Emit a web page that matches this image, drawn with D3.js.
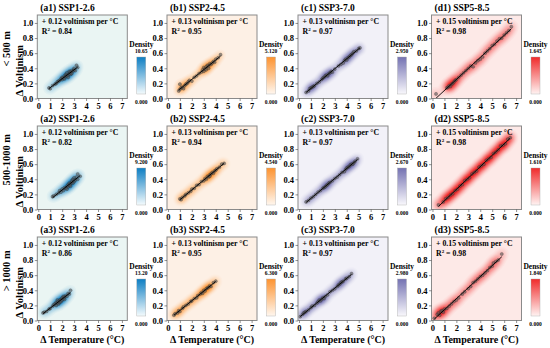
<!DOCTYPE html>
<html><head><meta charset="utf-8">
<script src="https://cdn.jsdelivr.net/npm/d3@7"></script>
<style>
body{margin:0;background:#fff;}
text{font-family:"Liberation Serif","Times New Roman",serif;font-weight:bold;fill:#000;}
</style></head>
<body><svg id="c" width="550" height="348"></svg>
<script>
const rowLabels = ["< 500 m", "500-1000 m", "> 1000 m"];
const scenarios = ["SSP1-2.6", "SSP2-4.5", "SSP3-7.0", "SSP5-8.5"];
const colLetters = ["a", "b", "c", "d"];
const slopes = ["0.12", "0.13", "0.13", "0.15"];
const r2Row1 = ["0.84", "0.95", "0.97", "0.98"];
const r2Row2 = ["0.82", "0.94", "0.97", "0.98"];
const r2Row3 = ["0.86", "0.95", "0.97", "0.98"];
const densMaxRow1 = ["10.65", "5.120", "2.950", "1.645"];
const densMaxRow2 = ["9.200", "4.540", "2.670", "1.610"];
const densMaxRow3 = ["13.20", "6.300", "2.980", "1.840"];
const xTicks = [0, 1, 2, 3, 4, 5, 6, 7];
const yTicks = [0, 0.2, 0.4, 0.6, 0.8, 1.0];

// points: [ΔT, ΔVoltinism]
const ptsA1 = [[0.9,0.14],[1.0,0.13],[1.2,0.17],[1.4,0.19],[1.5,0.2],[1.6,0.22],[1.7,0.23],[1.8,0.24],[1.9,0.26],[2.0,0.25],[2.0,0.28],[2.1,0.27],[2.2,0.3],[2.2,0.26],[2.3,0.29],[2.3,0.32],[2.4,0.3],[2.4,0.34],[2.5,0.31],[2.5,0.28],[2.6,0.33],[2.6,0.36],[2.7,0.32],[2.7,0.35],[2.8,0.37],[2.8,0.33],[2.9,0.36],[3.0,0.38],[3.0,0.4],[3.1,0.37],[3.2,0.44],[3.3,0.41]];
const ptsB1 = [[0.9,0.1],[1.0,0.19],[1.0,0.12],[1.1,0.14],[1.2,0.15],[1.3,0.13],[1.4,0.17],[1.5,0.19],[1.6,0.2],[1.7,0.22],[1.8,0.24],[2.0,0.23],[2.2,0.28],[2.4,0.3],[2.6,0.33],[2.8,0.35],[2.9,0.38],[3.0,0.36],[3.0,0.41],[3.1,0.39],[3.2,0.42],[3.2,0.38],[3.3,0.44],[3.4,0.43],[3.4,0.4],[3.5,0.46],[3.6,0.45],[3.7,0.47],[3.8,0.49],[3.9,0.48],[4.0,0.52],[4.2,0.54],[4.4,0.58]];
const ptsC1 = [[0.6,0.08],[0.8,0.1],[0.9,0.13],[1.0,0.14],[1.1,0.15],[1.2,0.16],[1.3,0.17],[1.5,0.2],[1.7,0.22],[1.9,0.25],[2.0,0.27],[2.1,0.28],[2.2,0.3],[2.3,0.31],[2.4,0.3],[2.5,0.33],[2.6,0.34],[2.7,0.36],[2.8,0.35],[3.0,0.39],[3.3,0.43],[3.5,0.45],[3.7,0.47],[3.8,0.5],[3.9,0.52],[4.0,0.51],[4.1,0.54],[4.2,0.55],[4.3,0.57],[4.4,0.58],[4.5,0.6],[4.6,0.62],[4.8,0.63],[5.0,0.66],[5.1,0.67]];
const ptsD1 = [[0.3,0.06],[1.2,0.14],[1.3,0.15],[1.4,0.17],[1.5,0.16],[1.6,0.19],[1.7,0.2],[1.8,0.22],[1.9,0.24],[2.0,0.25],[2.2,0.28],[2.4,0.31],[2.6,0.34],[2.8,0.37],[3.0,0.4],[3.2,0.43],[3.4,0.42],[3.6,0.47],[3.8,0.5],[4.0,0.52],[4.2,0.55],[4.4,0.6],[4.6,0.63],[4.8,0.66],[5.0,0.7],[5.2,0.72],[5.4,0.76],[5.6,0.79],[5.8,0.8],[6.0,0.84],[6.2,0.87],[6.4,0.9],[6.6,0.95]];
const ptsA2 = [[1.2,0.17],[1.3,0.18],[1.5,0.2],[1.7,0.22],[1.8,0.25],[1.9,0.23],[2.0,0.27],[2.1,0.25],[2.2,0.29],[2.3,0.28],[2.4,0.31],[2.4,0.27],[2.5,0.33],[2.5,0.3],[2.6,0.32],[2.6,0.35],[2.7,0.34],[2.7,0.31],[2.8,0.36],[2.8,0.38],[2.9,0.35],[2.9,0.4],[3.0,0.37],[3.0,0.42],[3.1,0.39],[3.2,0.43],[3.3,0.4],[3.3,0.47],[3.5,0.44]];
const ptsB2 = [[1.0,0.14],[1.1,0.13],[1.2,0.16],[1.4,0.18],[1.5,0.2],[1.7,0.22],[1.9,0.24],[2.0,0.27],[2.2,0.28],[2.4,0.32],[2.6,0.33],[2.8,0.37],[3.0,0.38],[3.1,0.41],[3.2,0.4],[3.3,0.44],[3.4,0.43],[3.5,0.46],[3.5,0.44],[3.6,0.47],[3.7,0.49],[3.8,0.48],[3.9,0.51],[4.0,0.52],[4.1,0.54],[4.3,0.56],[4.5,0.6],[4.7,0.61]];
const ptsC2 = [[0.6,0.1],[0.8,0.12],[1.0,0.15],[1.2,0.17],[1.4,0.2],[1.6,0.23],[1.8,0.25],[2.0,0.28],[2.1,0.29],[2.2,0.3],[2.3,0.32],[2.4,0.33],[2.5,0.35],[2.6,0.36],[2.8,0.38],[3.0,0.41],[3.2,0.43],[3.4,0.46],[3.6,0.49],[3.8,0.5],[3.9,0.53],[4.0,0.55],[4.1,0.56],[4.2,0.57],[4.3,0.59],[4.4,0.6],[4.5,0.6],[4.6,0.62],[4.7,0.64],[4.9,0.67]];
const ptsD2 = [[0.5,0.06],[0.9,0.1],[1.1,0.14],[1.3,0.16],[1.5,0.19],[1.7,0.21],[1.9,0.25],[2.1,0.27],[2.3,0.31],[2.5,0.33],[2.7,0.38],[2.9,0.4],[3.1,0.42],[3.3,0.47],[3.5,0.49],[3.7,0.51],[3.9,0.56],[4.1,0.58],[4.3,0.6],[4.5,0.65],[4.7,0.67],[4.9,0.69],[5.1,0.74],[5.3,0.76],[5.5,0.79],[5.7,0.84],[5.9,0.85],[6.1,0.87],[6.3,0.93],[6.5,0.95]];
const ptsA3 = [[0.4,0.1],[0.5,0.11],[0.7,0.12],[0.9,0.15],[1.0,0.16],[1.2,0.19],[1.3,0.21],[1.4,0.22],[1.5,0.24],[1.5,0.2],[1.6,0.23],[1.6,0.27],[1.7,0.25],[1.7,0.22],[1.8,0.27],[1.8,0.24],[1.9,0.28],[1.9,0.25],[2.0,0.3],[2.0,0.27],[2.1,0.29],[2.1,0.32],[2.2,0.31],[2.2,0.28],[2.3,0.33],[2.4,0.32],[2.5,0.36],[2.6,0.35],[2.7,0.4]];
const ptsB3 = [[0.5,0.07],[0.6,0.09],[0.8,0.1],[0.9,0.13],[1.0,0.12],[1.2,0.16],[1.3,0.18],[1.5,0.2],[1.7,0.22],[1.9,0.25],[2.0,0.26],[2.2,0.29],[2.4,0.3],[2.5,0.33],[2.7,0.35],[2.8,0.37],[2.9,0.36],[3.0,0.4],[3.1,0.39],[3.2,0.42],[3.3,0.43],[3.4,0.44],[3.5,0.46],[3.6,0.45],[3.8,0.5],[4.0,0.52]];
const ptsC3 = [[0.1,0.05],[0.3,0.08],[0.4,0.1],[0.5,0.11],[0.6,0.12],[0.8,0.14],[1.0,0.17],[1.1,0.19],[1.3,0.2],[1.5,0.23],[1.6,0.25],[1.7,0.27],[1.8,0.26],[1.9,0.28],[2.0,0.3],[2.1,0.29],[2.2,0.32],[2.4,0.34],[2.6,0.38],[2.8,0.4],[3.0,0.42],[3.2,0.45],[3.3,0.47],[3.4,0.48],[3.5,0.5],[3.6,0.51],[3.7,0.52],[3.9,0.55],[4.0,0.56],[4.2,0.58],[4.4,0.62]];
const ptsD3 = [[0.15,0.03],[0.4,0.08],[0.5,0.1],[0.6,0.07],[0.7,0.12],[0.8,0.13],[0.9,0.11],[1.0,0.15],[1.2,0.16],[1.4,0.19],[1.6,0.22],[1.8,0.25],[2.0,0.27],[2.2,0.3],[2.5,0.35],[2.7,0.38],[3.0,0.42],[3.2,0.45],[3.4,0.5],[3.6,0.52],[3.8,0.55],[4.0,0.58],[4.2,0.6],[4.4,0.63],[4.6,0.66],[4.8,0.7],[5.0,0.72],[5.1,0.76],[5.3,0.78],[5.5,0.8],[5.8,0.88]];

const bgColors = ["#eaf5f3", "#fdf0e5", "#f2f1f8", "#fde9e7"];
const topColors = ["#0d7ec3", "#fd9330", "#7472b2", "#f02a2a"];
const barBottom = ["#f4fbfd", "#fff7ef", "#f9f8fc", "#fff3f2"];

const pts = [[ptsA1, ptsB1, ptsC1, ptsD1],[ptsA2, ptsB2, ptsC2, ptsD2],[ptsA3, ptsB3, ptsC3, ptsD3]];
const r2 = [r2Row1, r2Row2, r2Row3];
const densMax = [densMaxRow1, densMaxRow2, densMaxRow3];

const colLeft = [37.3, 167, 298, 431.5];
const rowTop = [15, 126, 237];
const W = 90, H = 83.5;
const bandwidths = [3.2, 3.0, 3.0, 3.6];

const svg = d3.select("#c");
const defs = svg.append("defs");
const x = d3.scaleLinear().domain([-0.08, 7.45]).range([0, W]);
const y = d3.scaleLinear().domain([0, 1.105]).range([H, 0]);

topColors.forEach((c, j) => {
  const g = defs.append("linearGradient").attr("id", "grad" + j).attr("x1", 0).attr("x2", 0).attr("y1", 1).attr("y2", 0);
  g.append("stop").attr("offset", "0%").attr("stop-color", barBottom[j]);
  g.append("stop").attr("offset", "100%").attr("stop-color", c);
});
defs.append("clipPath").attr("id", "clipP").append("rect").attr("width", W).attr("height", H);

function linreg(p) {
  const mx = d3.mean(p, d => d[0]), my = d3.mean(p, d => d[1]);
  let sxy = 0, sxx = 0;
  p.forEach(d => { sxy += (d[0]-mx)*(d[1]-my); sxx += (d[0]-mx)**2; });
  const b = sxy / sxx; return [b, my - b*mx];
}

for (let i = 0; i < 3; i++) {
  for (let j = 0; j < 4; j++) {
    const P = pts[i][j];
    const g = svg.append("g").attr("transform", `translate(${colLeft[j]},${rowTop[i]})`);
    const inner = g.append("g").attr("clip-path", "url(#clipP)");
    inner.append("rect").attr("width", W).attr("height", H).attr("fill", bgColors[j]);
    const contours = d3.contourDensity().x(d => x(d[0])).y(d => y(d[1]))
      .size([W, H]).cellSize(1).bandwidth(bandwidths[j]).thresholds(30)(P);
    const mx = d3.max(contours, c => c.value);
    const col = d3.interpolateRgb(bgColors[j], topColors[j]);
    inner.selectAll("path.k").data(contours).join("path")
      .attr("d", d3.geoPath()).attr("fill", c => col(Math.min(1, c.value / mx * 1.1)));
    inner.selectAll("circle").data(P).join("circle")
      .attr("cx", d => x(d[0])).attr("cy", d => y(d[1])).attr("r", 1.6)
      .attr("fill", "#555").attr("fill-opacity", 0.6).attr("stroke", "#222").attr("stroke-opacity", 0.6).attr("stroke-width", 0.4);
    const [b, a] = linreg(P);
    const [x0, x1] = d3.extent(P, d => d[0]);
    inner.append("line").attr("x1", x(x0)).attr("y1", y(a + b*x0)).attr("x2", x(x1)).attr("y2", y(a + b*x1))
      .attr("stroke", "#000").attr("stroke-width", 0.9);
    g.append("rect").attr("width", W).attr("height", H).attr("fill", "none").attr("stroke", "#8a8a8a").attr("stroke-width", 1);
    const xa = g.append("g").attr("transform", `translate(0,${H})`)
      .call(d3.axisBottom(x).tickValues(xTicks).tickSize(2.5).tickPadding(1.5).tickFormat(d3.format("d")));
    const ya = g.append("g").call(d3.axisLeft(y).tickValues(yTicks).tickSize(2.5).tickPadding(1.5).tickFormat(d3.format(".1f")));
    [xa, ya].forEach(a => { a.select(".domain").remove(); a.selectAll("line").attr("stroke", "#444").attr("stroke-width", 0.6);
      a.selectAll("text").style("font-family", '"Liberation Serif","Times New Roman",serif').style("font-weight", "bold").attr("font-size", 8.5).attr("fill", "#000"); });
    g.append("text").attr("x", 3).attr("y", -4).attr("font-size", 9.5)
      .text(`(${colLetters[j]}${i+1}) ${scenarios[j]}`);
    g.append("text").attr("x", 4.5).attr("y", 8.5).attr("font-size", 7.8).text(`+ ${slopes[j]} voltinism per °C`);
    const rt = g.append("text").attr("x", 4.5).attr("y", 18.5).attr("font-size", 7.8);
    rt.append("tspan").text("R");
    rt.append("tspan").attr("font-size", 5).attr("dy", -3).text("2");
    rt.append("tspan").attr("dy", 3).text(" = " + r2[i][j]);
    const cb = g.append("g").attr("transform", `translate(${W + 9.5},0)`);
    cb.append("rect").attr("y", 42).attr("width", 9).attr("height", 37).attr("fill", `url(#grad${j})`)
      .attr("stroke", "#aaa").attr("stroke-width", 0.4);
    cb.append("text").attr("x", 4.5).attr("y", 32).attr("text-anchor", "middle").attr("font-size", 7.5).text("Density");
    cb.append("text").attr("x", 4.5).attr("y", 37.5).attr("text-anchor", "middle").attr("font-size", 5.5).text(densMax[i][j]);
    cb.append("text").attr("x", 4.5).attr("y", 88.5).attr("text-anchor", "middle").attr("font-size", 5.5).text("0.000");
    if (j === 0) {
      const cy = H / 2;
      g.append("text").attr("transform", `translate(-27,${cy - 8}) rotate(-90)`).attr("text-anchor", "middle").attr("font-size", 10.5).text(rowLabels[i]);
      g.append("text").attr("transform", `translate(-14,${cy + 14}) rotate(-90)`).attr("text-anchor", "middle").attr("font-size", 10.5).text("Δ Voltinism");
    }
    if (i === 2) {
      g.append("text").attr("x", W / 2).attr("y", H + 22).attr("text-anchor", "middle").attr("font-size", 10).text("Δ Temperature (°C)");
    }
  }
}
</script></body></html>
